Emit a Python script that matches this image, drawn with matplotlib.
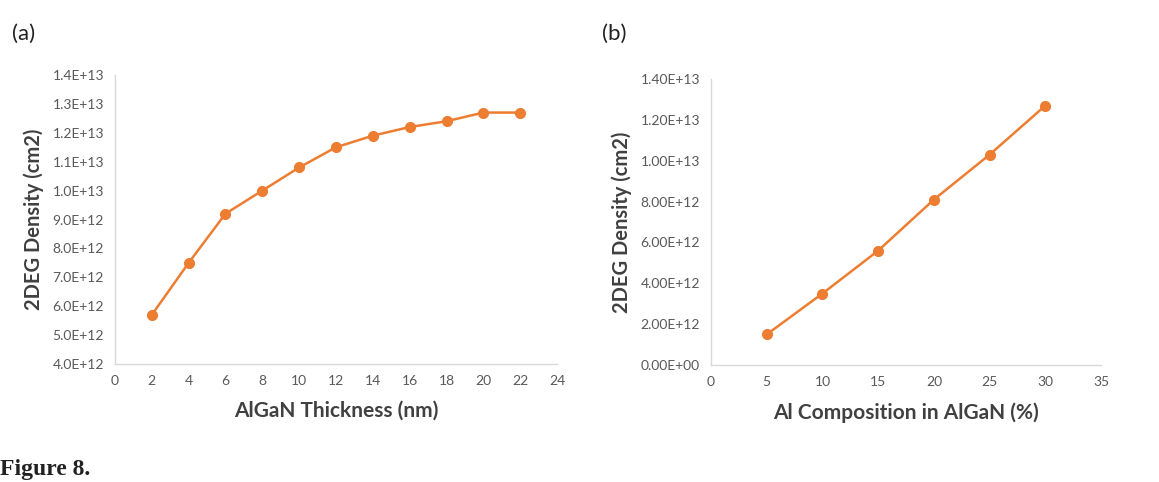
import numpy as np
import matplotlib.pyplot as plt
from matplotlib.ticker import FuncFormatter

thickness = [2, 4, 6, 8, 10, 12, 14, 16, 18, 20, 22]
density_a = [5.7e12, 7.5e12, 9.2e12, 1.0e13, 1.08e13, 1.15e13, 1.19e13,
             1.22e13, 1.24e13, 1.27e13, 1.27e13]

composition = [5, 10, 15, 20, 25, 30]
density_b = [1.5e12, 3.5e12, 5.6e12, 8.1e12, 1.03e13, 1.27e13]

orange = '#ED7D31'
axis_gray = '#D9D9D9'
tick_gray = '#595959'
label_color = '#404040'

plt.rcParams['font.family'] = ['Lato', 'DejaVu Sans']

fig = plt.figure(figsize=(11.59, 4.82), dpi=100)


def style(ax):
    for s in ['top', 'right']:
        ax.spines[s].set_visible(False)
    for s in ['left', 'bottom']:
        ax.spines[s].set_color(axis_gray)
        ax.spines[s].set_linewidth(1.0)
    ax.tick_params(length=0, colors=tick_gray, labelsize=10, pad=8)


def sci(decimals):
    def f(v, pos):
        if v == 0:
            return '0.' + '0' * decimals + 'E+00'
        e = int(np.floor(np.log10(abs(v)) + 1e-9))
        m = v / 10 ** e
        return f'{m:.{decimals}f}E+{e:02d}'
    return FuncFormatter(f)


# panel (a)
ax1 = fig.add_axes([0.0992, 0.2448, 0.3814, 0.5996])
style(ax1)
ax1.plot(thickness, density_a, color=orange, lw=1.8, marker='o', ms=7)
ax1.set_xlim(0, 24)
ax1.set_xticks(range(0, 25, 2))
ax1.set_ylim(4.0e12, 1.4e13)
ax1.set_yticks(np.arange(4.0e12, 1.41e13, 1.0e12))
ax1.yaxis.set_major_formatter(sci(1))
ax1.set_xlabel('AlGaN Thickness (nm)', fontsize=15, fontweight='bold',
               color=label_color, labelpad=10)
ax1.set_ylabel('2DEG Density (cm2)', fontsize=14.5, fontweight='bold',
               color=label_color, labelpad=6)

# panel (b)
ax2 = fig.add_axes([0.6135, 0.2427, 0.3365, 0.5933])
style(ax2)
ax2.plot(composition, density_b, color=orange, lw=1.8, marker='o', ms=7)
ax2.set_xlim(0, 35)
ax2.set_xticks(range(0, 36, 5))
ax2.set_ylim(0, 1.4e13)
ax2.set_yticks(np.arange(0, 1.41e13, 2.0e12))
ax2.yaxis.set_major_formatter(sci(2))
ax2.set_xlabel('Al Composition in AlGaN (%)', fontsize=15, fontweight='bold',
               color=label_color, labelpad=10)
ax2.set_ylabel('2DEG Density (cm2)', fontsize=14.5, fontweight='bold',
               color=label_color, labelpad=6)

fig.text(0.010, 0.93, '(a)', fontsize=16, color='#222222', va='center')
fig.text(0.519, 0.93, '(b)', fontsize=16, color='#222222', va='center')
fig.text(0.0, 0.025, 'Figure 8.', fontsize=17, fontweight='bold',
         family='Liberation Serif', color='#222222', va='center')

fig.savefig('out.png', dpi=100)
